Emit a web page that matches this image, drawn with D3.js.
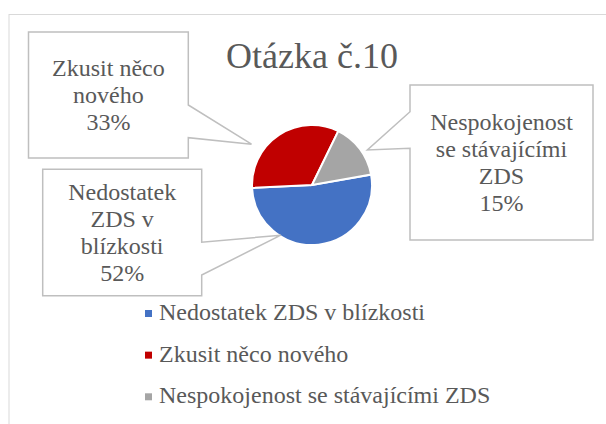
<!DOCTYPE html>
<html>
<head>
<meta charset="utf-8">
<script src="https://cdn.jsdelivr.net/npm/d3@7"></script>
<style>
  body { margin: 0; background: #fff; }
  svg text, svg tspan { font-family: "Liberation Serif", Tinos, "Times New Roman" !important; }
</style>
</head>
<body>
<div id="svg-area"></div>
<script>
// Chart data
var title = "Otázka č.10";
var categories = ["Nedostatek ZDS v blízkosti", "Zkusit něco nového", "Nespokojenost se stávajícími ZDS"];
var values = [52, 33, 15];
var labelLines = [
  ["Nedostatek", "ZDS v", "blízkosti"],
  ["Zkusit něco", "nového"],
  ["Nespokojenost", "se stávajícími", "ZDS"]
];
var colors = ["#4472C4", "#C00000", "#A5A5A5"];

var svgWidth = 606;
var svgHeight = 424;
var labelFont = "Liberation Serif";
var textColor = "#595959";

// pie placement
var cx = 312, cy = 185, radius = 60;
var firstSliceAngle = 80; // degrees, clockwise from 12 o'clock

// callout boxes: rectangle + pointer (side, notch y range, tip given as angle/radius from pie centre)
var callouts = [
  { x0: 42.7, y0: 169.3, x1: 201.7, y1: 295.7, side: "right", n0: 242.3, n1: 275, tipAngle: 211.8, tipR: 59 },
  { x0: 28.5, y0: 32, x1: 188.3, y1: 158, side: "right", n0: 105, n1: 137.7, tipAngle: 304, tipR: 73 },
  { x0: 410, y0: 85, x1: 593, y1: 240, side: "left", n0: 111.7, n1: 148.3, tipAngle: 57.7, tipR: 65.5 }
];

var svg = d3.select("#svg-area")
  .append("svg")
  .attr("width", svgWidth)
  .attr("height", svgHeight)
  .style("font-family", labelFont);

// chart area border (runs off the right/bottom of the picture)
svg.append("rect")
  .attr("x", 9)
  .attr("y", 14.5)
  .attr("width", 620)
  .attr("height", 430)
  .attr("fill", "none")
  .attr("stroke", "#d9d9d9")
  .attr("stroke-width", 1);

// title
svg.append("text")
  .attr("x", cx)
  .attr("y", 68)
  .attr("text-anchor", "middle")
  .attr("fill", textColor)
  .style("font-family", labelFont)
  .style("font-size", "36px")
  .text(title);

// pie
var toRad = Math.PI / 180;
var pie = d3.pie()
  .sort(null)
  .startAngle(firstSliceAngle * toRad)
  .endAngle(firstSliceAngle * toRad + 2 * Math.PI);

var arc = d3.arc()
  .innerRadius(0)
  .outerRadius(radius);

var arcs = pie(values);

var pieGroup = svg.append("g")
  .attr("transform", `translate(${cx}, ${cy})`);

pieGroup.selectAll("path")
  .data(arcs)
  .enter()
  .append("path")
  .attr("d", arc)
  .attr("fill", (d, i) => colors[i])
  .attr("stroke", "#fff")
  .attr("stroke-width", 2);

// callout shapes
function calloutPath(c) {
  var tip = d3.pointRadial(c.tipAngle * toRad, c.tipR);
  var tx = cx + tip[0], ty = cy + tip[1];
  var p = d3.path();
  if (c.side === "right") {
    p.moveTo(c.x0, c.y0);
    p.lineTo(c.x1, c.y0);
    p.lineTo(c.x1, c.n0);
    p.lineTo(tx, ty);
    p.lineTo(c.x1, c.n1);
    p.lineTo(c.x1, c.y1);
    p.lineTo(c.x0, c.y1);
  } else {
    p.moveTo(c.x0, c.y0);
    p.lineTo(c.x1, c.y0);
    p.lineTo(c.x1, c.y1);
    p.lineTo(c.x0, c.y1);
    p.lineTo(c.x0, c.n1);
    p.lineTo(tx, ty);
    p.lineTo(c.x0, c.n0);
  }
  p.closePath();
  return p.toString();
}

var total = d3.sum(values);
var lineHeight = 27;

callouts.forEach(function(c, i) {
  svg.append("path")
    .attr("d", calloutPath(c))
    .attr("fill", "#fff")
    .attr("stroke", "#bfbfbf")
    .attr("stroke-width", 1.5);

  var lines = labelLines[i].concat([Math.round(values[i] / total * 100) + "%"]);
  var midX = (c.x0 + c.x1) / 2;
  var midY = (c.y0 + c.y1) / 2;
  var firstBase = midY - (lines.length - 1) / 2 * lineHeight + 8;

  svg.selectAll(null)
    .data(lines)
    .enter()
    .append("text")
    .attr("x", midX)
    .attr("y", (d, j) => firstBase + j * lineHeight)
    .attr("text-anchor", "middle")
    .attr("fill", textColor)
    .style("font-family", labelFont)
    .style("font-size", "24px")
    .text(d => d);
});

// legend
var legendY = d3.scalePoint()
  .domain(categories)
  .range([320, 403.3]);

var legend = svg.append("g");

legend.selectAll("rect")
  .data(categories)
  .enter()
  .append("rect")
  .attr("x", 145)
  .attr("y", d => legendY(d) - 10)
  .attr("width", 7)
  .attr("height", 7)
  .attr("fill", (d, i) => colors[i]);

legend.selectAll("text")
  .data(categories)
  .enter()
  .append("text")
  .attr("x", 159)
  .attr("y", d => legendY(d))
  .attr("fill", textColor)
  .style("font-family", labelFont)
  .style("font-size", "24px")
  .text(d => d);
</script>
</body>
</html>
